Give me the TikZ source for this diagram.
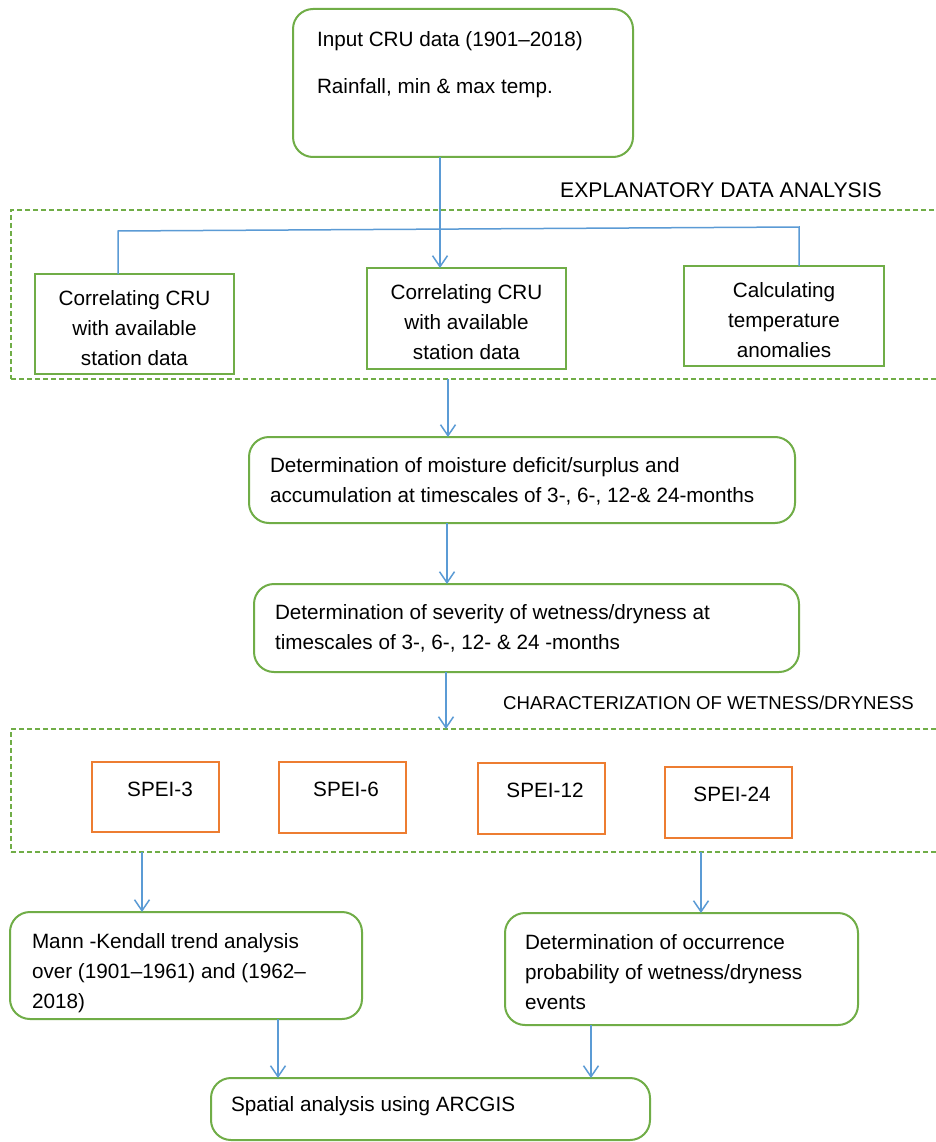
\documentclass[tikz,border=0pt]{standalone}
\usepackage{fontspec}
\setmainfont{Liberation Sans}
\usetikzlibrary{arrows.meta}
\definecolor{gr}{HTML}{70AD47}
\definecolor{bl}{HTML}{5B9BD5}
\definecolor{og}{HTML}{ED7D31}
\newcommand{\tlbox}[5]{\parbox[c][#2][t]{#1}{\raggedright\leftskip=#3\relax\rule{0pt}{#4}#5}}
\newcommand{\ctbox}[4]{\parbox[c][#2][t]{#1}{\centering\rule{0pt}{#3}#4}}
\begin{document}
\begin{tikzpicture}[x=1pt,y=-1pt,
  bx/.style={inner sep=0pt, outer sep=0pt, anchor=north west, font={\fontsize{20.7}{30}\selectfont}},
  rbox/.style={bx, draw=gr, line width=2pt, rounded corners=20pt},
  sbox/.style={bx, draw=gr, line width=2pt},
  obox/.style={bx, draw=og, line width=2pt},
  dframe/.style={bx, draw=gr, line width=1.6pt, dash pattern=on 5pt off 3pt},
  conn/.style={draw=bl, line width=1.5pt},
  arr/.style={conn, -{Straight Barb[length=11pt,width=15pt]}},
  lbl/.style={inner sep=0pt, anchor=base west}]
\useasboundingbox (0,0) rectangle (936,1142);
\fill[white] (0,0) rectangle (936,1142);

% dashed frames
\node[dframe, minimum width=945pt, minimum height=169pt] (eda) at (11,210) {};
\node[dframe, minimum width=945pt, minimum height=123pt] (ch) at (11,729) {};

% labels
\node[lbl, font={\fontsize{21.2}{24}\selectfont}] (edalbl) at (560,197) {EXPLANATORY DATA ANALYSIS};
\node[lbl, font={\fontsize{18.6}{22}\selectfont}] (chlbl) at (503,709) {CHARACTERIZATION OF WETNESS/DRYNESS};

% boxes
\node[rbox] (top) at (293,9) {\tlbox{340pt}{148pt}{24pt}{38pt}{Input CRU data (1901–2018)\\[17pt]Rainfall, min \& max temp.}};

\node[sbox] (b1) at (35,274) {\ctbox{199pt}{100pt}{31pt}{Correlating CRU\\with available\\station data}};
\node[sbox] (b2) at (367,268) {\ctbox{199pt}{101pt}{31pt}{Correlating CRU\\with available\\station data}};
\node[sbox] (b3) at (684,266) {\ctbox{200pt}{100pt}{31pt}{Calculating\\temperature\\anomalies}};

\node[rbox] (b4) at (249,437) {\tlbox{546pt}{86pt}{21pt}{35pt}{Determination of moisture deficit/surplus and\\accumulation at timescales of 3-, 6-, 12-\& 24-months}};
\node[rbox] (b5) at (254,584) {\tlbox{545pt}{88pt}{21pt}{35pt}{Determination of severity of wetness/dryness at\\timescales of 3-, 6-, 12- \& 24 -months}};

\node[obox] (s3) at (92,762) {\ctbox{127pt}{70pt}{34pt}{\hspace*{9pt}SPEI-3}};
\node[obox] (s6) at (279,762) {\ctbox{127pt}{71pt}{34pt}{\hspace*{7pt}SPEI-6}};
\node[obox] (s12) at (478,763) {\ctbox{127pt}{71pt}{34pt}{\hspace*{7pt}SPEI-12}};
\node[obox] (s24) at (665,767) {\ctbox{127pt}{71pt}{34pt}{\hspace*{7pt}SPEI-24}};

\node[rbox] (b6) at (10,912) {\tlbox{352pt}{107pt}{22pt}{36pt}{Mann -Kendall trend analysis\\over (1901–1961) and (1962–\\2018)}};
\node[rbox] (b7) at (505,913) {\tlbox{353pt}{112pt}{20pt}{36pt}{Determination of occurrence\\probability of wetness/dryness\\events}};
\node[rbox] (b8) at (211,1078) {\tlbox{439pt}{62pt}{20pt}{33pt}{Spatial analysis using ARCGIS}};

% connectors
\coordinate (jl) at (118,231);
\coordinate (jr) at (799,227);
\draw[conn] (jl |- b1.north) -- (jl) -- (jr) -- (jr |- b3.north);
\draw[arr] ([xshift=-23pt]top.south) -- ([xshift=-23pt]top.south |- b2.north);
\draw[arr] ([xshift=-74pt]b4.north |- eda.south) -- ([xshift=-74pt]b4.north);
\draw[arr] ([xshift=-75pt]b4.south) -- ([xshift=-75pt]b4.south |- b5.north);
\draw[arr] ([xshift=-80.5pt]b5.south) -- ([xshift=-80.5pt]b5.south |- ch.north);
\draw[arr] ([xshift=-44pt]b6.north |- ch.south) -- ([xshift=-44pt]b6.north);
\draw[arr] ([xshift=19.5pt]b7.north |- ch.south) -- ([xshift=19.5pt]b7.north);
\draw[arr] ([xshift=92pt]b6.south) -- ([xshift=92pt]b6.south |- b8.north);
\draw[arr] ([xshift=-90.5pt]b7.south) -- ([xshift=-90.5pt]b7.south |- b8.north);
\end{tikzpicture}
\end{document}
